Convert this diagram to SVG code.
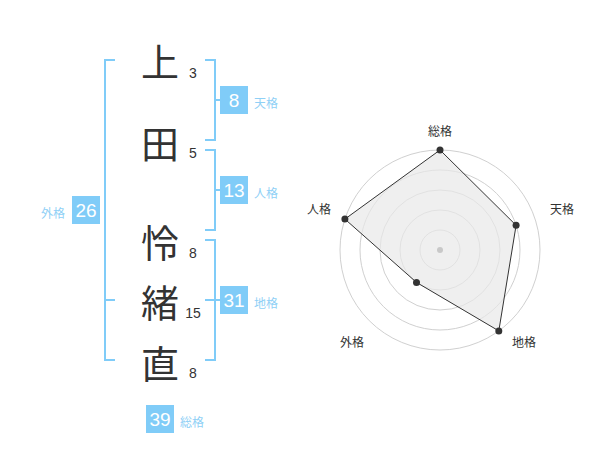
<svg xmlns="http://www.w3.org/2000/svg" width="600" height="470" viewBox="0 0 600 470">
<style>
.br{fill:none;stroke:#80ccf8;stroke-width:2}
.box{fill:#80ccf8}
.bt{font-family:"Liberation Sans",Arial,sans-serif;font-size:19px;fill:#fff;text-anchor:middle}
.bl{font-family:"Noto Sans CJK JP",sans-serif;font-size:12px;fill:#8fd0f6}
.ch{font-family:"Noto Sans CJK JP",sans-serif;font-size:38px;fill:#333;text-anchor:middle;dominant-baseline:central}
.num{font-family:"Liberation Sans",Arial,sans-serif;font-size:14px;fill:#333;text-anchor:middle}
.ring{fill:none;stroke:#d0d0d0;stroke-width:1}
.rl{font-family:"Noto Sans CJK JP",sans-serif;font-size:12px;fill:#333;text-anchor:middle;dominant-baseline:central}
.pt{fill:#333}
</style>
<rect width="600" height="470" fill="#fff"/>
<g id="connectors">
<path class="br" d="M115,60H105V360H115M105,300H115"/>
<path class="br" d="M205,60H215V140H205M215,100H220"/>
<path class="br" d="M205,150H215V230H205M215,190H220"/>
<path class="br" d="M205,240H215V360H205M205,300H220"/>
</g>
<g id="chars">
<text class="ch" x="160" y="59">上</text>
<text class="ch" x="160" y="141">田</text>
<text class="ch" x="160" y="240">怜</text>
<text class="ch" x="160" y="300">緒</text>
<text class="ch" x="160" y="361">直</text>
<text class="num" x="193" y="78">3</text>
<text class="num" x="193" y="158">5</text>
<text class="num" x="193" y="258">8</text>
<text class="num" x="193" y="318">15</text>
<text class="num" x="193" y="378">8</text>
</g>
<g id="tenkaku">
<rect class="box" x="220" y="86" width="28" height="28"/>
<text class="bt" x="234" y="107">8</text>
<text class="bl" x="254" y="108">天格</text>
</g>
<g id="jinkaku">
<rect class="box" x="220" y="176" width="28" height="28"/>
<text class="bt" x="234" y="197">13</text>
<text class="bl" x="254" y="198">人格</text>
</g>
<g id="chikaku">
<rect class="box" x="220" y="286" width="28" height="28"/>
<text class="bt" x="234" y="307">31</text>
<text class="bl" x="254" y="308">地格</text>
</g>
<g id="gaikaku">
<rect class="box" x="72" y="196" width="28" height="28"/>
<text class="bt" x="86" y="217">26</text>
<text class="bl" x="41" y="218">外格</text>
</g>
<g id="soukaku">
<rect class="box" x="146" y="405" width="28" height="28"/>
<text class="bt" x="160" y="426">39</text>
<text class="bl" x="180" y="427">総格</text>
</g>
<g id="radar">
<circle class="ring" cx="440" cy="250" r="20"/>
<circle class="ring" cx="440" cy="250" r="40"/>
<circle class="ring" cx="440" cy="250" r="60"/>
<circle class="ring" cx="440" cy="250" r="80"/>
<circle class="ring" cx="440" cy="250" r="100"/>
<polygon points="440,150 516.1,225.3 498.8,330.9 416.5,282.4 344.9,219.1" fill="#e8e8e8" fill-opacity="0.7" stroke="#333" stroke-width="1"/>
<circle cx="440" cy="250" r="3" fill="#c8c8c8"/>
<circle class="pt" cx="440" cy="150" r="3.5"/>
<circle class="pt" cx="516.1" cy="225.3" r="3.5"/>
<circle class="pt" cx="498.8" cy="330.9" r="3.5"/>
<circle class="pt" cx="416.5" cy="282.4" r="3.5"/>
<circle class="pt" cx="344.9" cy="219.1" r="3.5"/>
<text class="rl" x="440" y="130">総格</text>
<text class="rl" x="562" y="208">天格</text>
<text class="rl" x="319" y="208">人格</text>
<text class="rl" x="352" y="341">外格</text>
<text class="rl" x="524" y="341">地格</text>
</g>
</svg>
